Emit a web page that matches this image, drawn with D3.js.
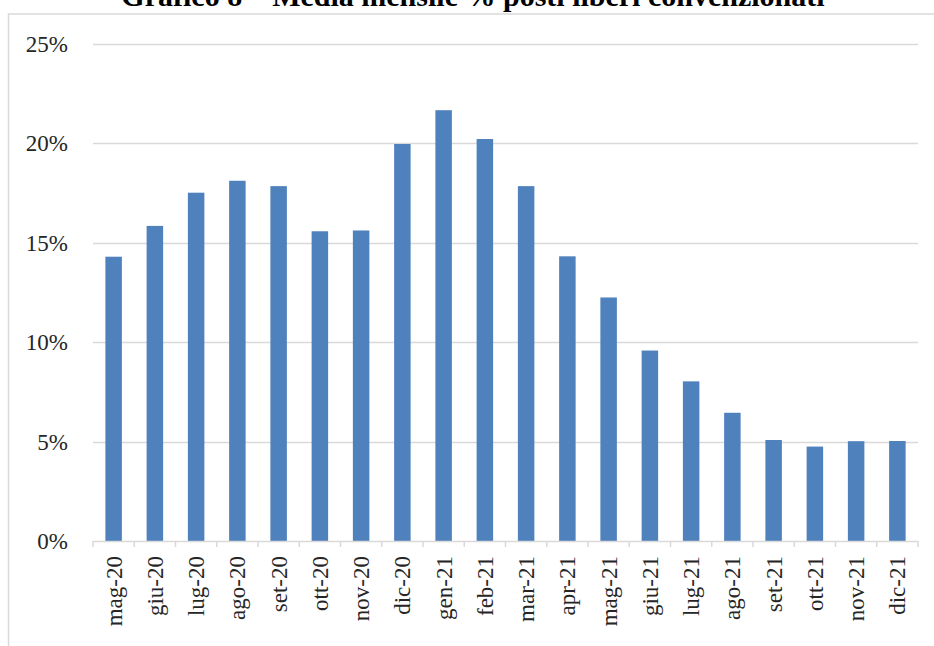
<!DOCTYPE html>
<html>
<head>
<meta charset="utf-8">
<script src="https://cdn.jsdelivr.net/npm/d3@7"></script>
<style>
  body { margin: 0; background: #fff; }
  svg { display: block; }
</style>
</head>
<body>
<script>
const months = ["mag-20","giu-20","lug-20","ago-20","set-20","ott-20","nov-20","dic-20",
  "gen-21","feb-21","mar-21","apr-21","mag-21","giu-21","lug-21","ago-21","set-21","ott-21","nov-21","dic-21"];
const pctFree = [0.143,0.1585,0.1752,0.1812,0.1785,0.1558,0.1562,0.1997,0.2167,0.2022,0.1785,0.1432,0.1225,0.0958,0.0803,0.0645,0.0508,0.0475,0.0502,0.0503];
const yTicks = [0, 0.05, 0.10, 0.15, 0.20, 0.25];
const title = "Grafico 8 – Media mensile % posti liberi convenzionati";

const width = 934, height = 646;
const margin = { top: 44, right: 16, bottom: 105, left: 93 };
const font = "'Liberation Serif', 'Times New Roman', serif";

const svg = d3.select("body").append("svg")
  .attr("width", width)
  .attr("height", height);

// chart frame
svg.append("rect")
  .attr("x", 8.5).attr("y", 14)
  .attr("width", 940).attr("height", 700)
  .attr("fill", "none")
  .attr("stroke", "#d9d9d9")
  .attr("stroke-width", 1.5);

svg.append("text")
  .attr("x", 473).attr("y", 6)
  .attr("text-anchor", "middle")
  .attr("font-family", font)
  .attr("font-weight", "bold")
  .attr("font-size", 30)
  .text(title);

const x = d3.scaleBand()
  .domain(months)
  .range([margin.left, width - margin.right])
  .paddingInner(0.6)
  .paddingOuter(0.3);

const y = d3.scaleLinear()
  .domain([0, 0.25])
  .range([height - margin.bottom, margin.top]);

// gridlines
svg.append("g")
  .selectAll("line")
  .data(yTicks.filter(d => d > 0))
  .join("line")
  .attr("x1", margin.left).attr("x2", width - margin.right)
  .attr("y1", d => Math.round(y(d)) + 0.5).attr("y2", d => Math.round(y(d)) + 0.5)
  .attr("stroke", "#d9d9d9")
  .attr("stroke-width", 1.5);

// y axis labels
svg.append("g")
  .selectAll("text")
  .data(yTicks)
  .join("text")
  .attr("x", 68)
  .attr("y", d => y(d))
  .attr("dy", "0.35em")
  .attr("text-anchor", "end")
  .attr("font-family", font)
  .attr("font-size", 23)
  .attr("fill", "#262626")
  .text(d3.format(".0%"));

// bars
svg.append("g")
  .selectAll("rect")
  .data(months.map((m, i) => ({ m, v: pctFree[i] })))
  .join("rect")
  .attr("x", d => x(d.m))
  .attr("y", d => y(d.v))
  .attr("width", x.bandwidth())
  .attr("height", d => y(0) - y(d.v))
  .attr("fill", "#4f81bd");

// x axis
const step = x.step();
const xAxis = svg.append("g");
xAxis.append("line")
  .attr("x1", margin.left).attr("x2", width - margin.right)
  .attr("y1", y(0) + 0.5).attr("y2", y(0) + 0.5)
  .attr("stroke", "#d9d9d9").attr("stroke-width", 1.5);
xAxis.selectAll("line.tick")
  .data(d3.range(months.length + 1))
  .join("line")
  .attr("class", "tick")
  .attr("x1", i => margin.left + i * step).attr("x2", i => margin.left + i * step)
  .attr("y1", y(0)).attr("y2", y(0) + 6)
  .attr("stroke", "#d9d9d9").attr("stroke-width", 1.5);
xAxis.selectAll("text")
  .data(months)
  .join("text")
  .attr("transform", d => `translate(${x(d) + x.bandwidth() / 2},${y(0) + 15}) rotate(-90)`)
  .attr("dy", "0.35em")
  .attr("text-anchor", "end")
  .attr("font-family", font)
  .attr("font-size", 23)
  .attr("fill", "#262626")
  .text(d => d);
</script>
</body>
</html>
